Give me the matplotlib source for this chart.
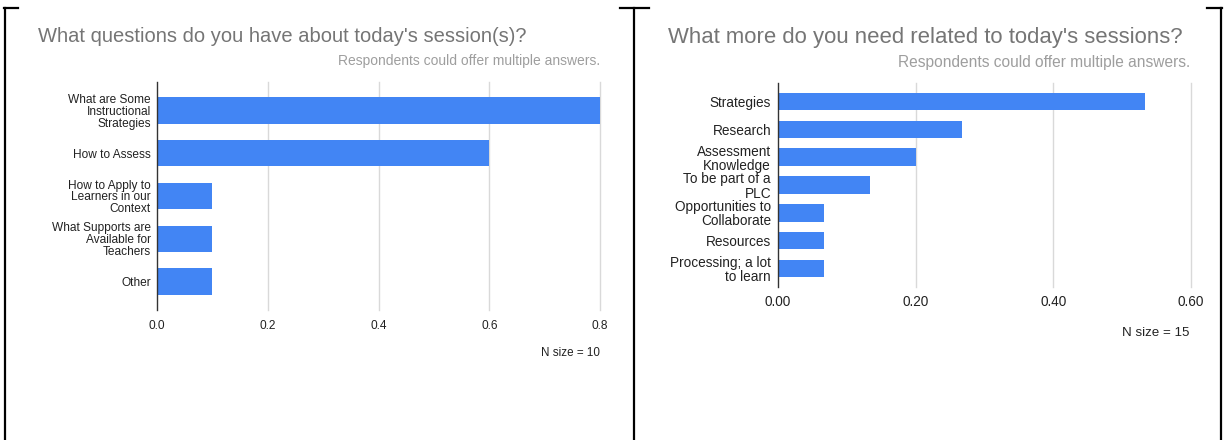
import matplotlib
matplotlib.use("Agg")
import matplotlib.pyplot as plt
from matplotlib.lines import Line2D

plt.rcParams['font.family'] = ['Liberation Sans', 'DejaVu Sans']

# ---- data ----
left_title = "What questions do you have about today's session(s)?"
left_categories = ["What are Some\nInstructional\nStrategies", "How to Assess",
                   "How to Apply to\nLearners in our\nContext",
                   "What Supports are\nAvailable for\nTeachers", "Other"]
left_values = [0.8, 0.6, 0.1, 0.1, 0.1]
left_ticks = [0.0, 0.2, 0.4, 0.6, 0.8]
left_ticklabels = ["0.0", "0.2", "0.4", "0.6", "0.8"]
left_note = "N size = 10"

right_title = "What more do you need related to today's sessions?"
right_categories = ["Strategies", "Research", "Assessment\nKnowledge",
                    "To be part of a\nPLC", "Opportunities to\nCollaborate",
                    "Resources", "Processing; a lot\nto learn"]
right_values = [0.533, 0.267, 0.2, 0.133, 0.067, 0.067, 0.067]
right_ticks = [0.0, 0.2, 0.4, 0.6]
right_ticklabels = ["0.00", "0.20", "0.40", "0.60"]
right_note = "N size = 15"

subtitle = "Respondents could offer multiple answers."

W, H = 1225, 440
fig = plt.figure(figsize=(W / 100, H / 100), dpi=100)

BLUE = "#4285F4"
TITLE_C = "#757575"
SUB_C = "#9e9e9e"
TXT = "#222222"


def fx(px):
    return px / W


def fy(py):
    return 1 - py / H


def draw_chart(rect, cats, vals, ticks, ticklabels, xmax, fs, tickpad, ypad):
    ax = fig.add_axes(rect)
    n = len(cats)
    ax.barh(range(n), vals, height=0.62, color=BLUE, zorder=3)
    ax.set_xlim(0, xmax)
    ax.set_ylim(n - 1 + 0.66, -0.66)
    ax.set_xticks(ticks)
    ax.set_xticklabels(ticklabels)
    ax.set_yticks(range(n))
    ax.set_yticklabels(cats, linespacing=1.0)
    for s in ax.spines.values():
        s.set_visible(False)
    ax.tick_params(axis='both', length=0, labelsize=fs, colors=TXT)
    ax.tick_params(axis='x', pad=tickpad)
    ax.tick_params(axis='y', pad=ypad)
    for t in ticks[1:]:
        ax.axvline(t, color="#d9d9d9", linewidth=1.0, zorder=0, clip_on=False)
    ax.axvline(0, color="#333333", linewidth=1.0, zorder=4, clip_on=False)
    ax.set_facecolor("white")
    return ax


draw_chart([fx(157), fy(310), fx(443), 228 / H], left_categories, left_values,
           left_ticks, left_ticklabels, 0.8, 8.6, 7, 4.5)
draw_chart([fx(778), fy(287), fx(413), 204 / H], right_categories, right_values,
           right_ticks, right_ticklabels, 0.6, 9.8, 5.5, 5)

# titles
fig.text(fx(38), fy(37), left_title, fontsize=14.5, color=TITLE_C, va='center', ha='left')
fig.text(fx(600), fy(61), subtitle, fontsize=10, color=SUB_C, va='center', ha='right')
fig.text(fx(600), fy(353), left_note, fontsize=8.4, color=TXT, va='center', ha='right')

fig.text(fx(668), fy(37), right_title, fontsize=15.9, color=TITLE_C, va='center', ha='left')
fig.text(fx(1190), fy(63), subtitle, fontsize=11.2, color=SUB_C, va='center', ha='right')
fig.text(fx(1190), fy(333), right_note, fontsize=9.6, color=TXT, va='center', ha='right')

# table borders
lw = 1.6
for (x0, x1) in [(4, 18), (620, 649), (1207, 1222)]:
    fig.add_artist(Line2D([fx(x0), fx(x1)], [fy(8), fy(8)], color='black', lw=lw))
for x in [5, 634, 1221]:
    fig.add_artist(Line2D([fx(x), fx(x)], [fy(8), fy(440)], color='black', lw=lw))

fig.savefig("out.png", dpi=100, facecolor="white")
